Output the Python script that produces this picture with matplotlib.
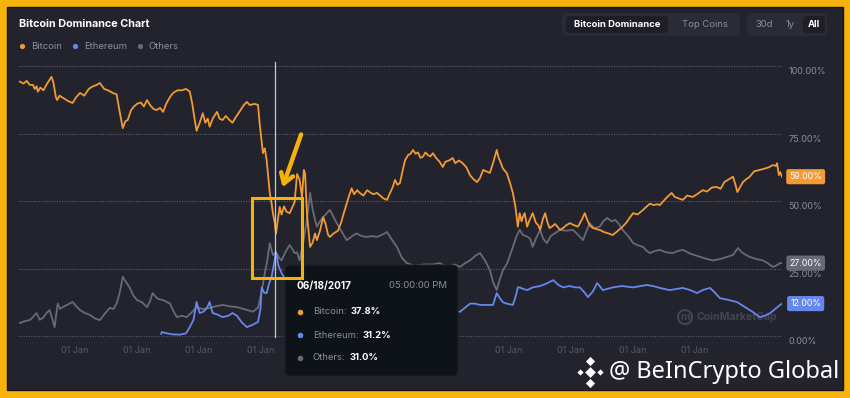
import matplotlib.pyplot as plt
import matplotlib.transforms as mtransforms
from matplotlib.patches import FancyBboxPatch, Rectangle, Circle

plt.rcParams['font.family'] = ['Inter', 'DejaVu Sans']

# ---- data (decimal year, dominance %) ----
btc = [(2013.34, 94.2), (2013.40, 93.5), (2013.45, 94.5), (2013.50, 93.0), (2013.55, 93.0),
       (2013.58, 91.5), (2013.61, 92.5), (2013.63, 90.5), (2013.67, 92.0), (2013.72, 91.0),
       (2013.78, 93.5), (2013.85, 96.0), (2013.88, 94.0), (2013.92, 88.5), (2013.94, 87.4),
       (2013.98, 89.0), (2014.05, 88.0), (2014.12, 87.0), (2014.19, 86.3), (2014.25, 88.5),
       (2014.31, 90.0), (2014.38, 89.0), (2014.45, 91.5), (2014.52, 92.5), (2014.58, 93.0),
       (2014.63, 93.7), (2014.70, 91.5), (2014.76, 91.0), (2014.84, 90.0), (2014.90, 89.5),
       (2014.95, 83.0), (2015.00, 77.0), (2015.04, 79.5), (2015.08, 80.0), (2015.13, 83.5),
       (2015.18, 85.0), (2015.23, 86.0), (2015.29, 86.5), (2015.34, 85.0), (2015.39, 87.4),
       (2015.44, 85.5), (2015.50, 84.0), (2015.55, 83.7), (2015.60, 84.5), (2015.65, 83.0),
       (2015.70, 86.0), (2015.76, 88.5), (2015.81, 90.0), (2015.88, 91.0), (2015.95, 91.0),
       (2016.02, 91.5), (2016.08, 90.5), (2016.12, 86.0), (2016.16, 80.0), (2016.19, 76.0),
       (2016.24, 79.0), (2016.29, 82.5), (2016.33, 79.0), (2016.37, 80.5), (2016.40, 77.5),
       (2016.45, 80.5), (2016.49, 82.0), (2016.52, 83.0), (2016.56, 80.5), (2016.61, 80.0),
       (2016.66, 81.5), (2016.72, 80.0), (2016.77, 79.0), (2016.82, 81.0), (2016.88, 83.0),
       (2016.95, 85.5), (2017.00, 86.7), (2017.05, 85.5), (2017.12, 86.0), (2017.18, 85.6),
       (2017.21, 78.0), (2017.26, 67.7), (2017.29, 69.5), (2017.32, 65.0), (2017.35, 58.0),
       (2017.37, 53.0), (2017.40, 49.0), (2017.42, 45.5), (2017.45, 42.0), (2017.47, 37.8),
       (2017.50, 43.0), (2017.53, 47.8), (2017.56, 45.0), (2017.60, 48.0), (2017.64, 46.0),
       (2017.69, 45.5), (2017.74, 48.0), (2017.77, 49.5), (2017.81, 60.0), (2017.85, 58.0),
       (2017.89, 51.5), (2017.92, 61.5), (2017.94, 60.0), (2017.97, 45.0), (2018.02, 33.0),
       (2018.06, 34.5), (2018.10, 38.0), (2018.13, 35.5), (2018.18, 39.0), (2018.23, 44.0),
       (2018.27, 41.5), (2018.31, 37.5), (2018.34, 36.7), (2018.40, 38.0), (2018.47, 39.0),
       (2018.52, 42.0), (2018.57, 46.0), (2018.61, 49.0), (2018.65, 52.0), (2018.69, 54.7),
       (2018.73, 52.5), (2018.78, 54.0), (2018.82, 53.0), (2018.88, 52.0), (2018.94, 54.0),
       (2018.98, 53.3), (2019.04, 52.5), (2019.10, 53.0), (2019.15, 52.0), (2019.20, 51.0),
       (2019.26, 50.4), (2019.30, 52.5), (2019.35, 55.0), (2019.39, 57.8), (2019.43, 56.0),
       (2019.47, 56.7), (2019.51, 61.0), (2019.55, 65.0), (2019.60, 67.0), (2019.64, 67.5),
       (2019.68, 68.9), (2019.72, 67.5), (2019.76, 68.0), (2019.80, 66.0), (2019.84, 66.4),
       (2019.88, 68.0), (2019.92, 67.0), (2019.96, 66.5), (2020.00, 67.7), (2020.05, 66.0),
       (2020.11, 64.5), (2020.16, 62.6), (2020.20, 64.5), (2020.26, 65.0), (2020.32, 65.9),
       (2020.36, 64.0), (2020.42, 65.0), (2020.48, 64.0), (2020.54, 62.5), (2020.60, 59.5),
       (2020.66, 58.0), (2020.71, 57.0), (2020.76, 58.5), (2020.81, 61.5), (2020.86, 61.0),
       (2020.92, 60.4), (2020.97, 64.0), (2021.03, 68.9), (2021.06, 66.0), (2021.08, 65.0),
       (2021.13, 62.0), (2021.19, 60.4), (2021.24, 57.0), (2021.29, 53.0), (2021.33, 48.0),
       (2021.37, 40.5), (2021.40, 45.5), (2021.43, 42.5), (2021.45, 44.0), (2021.48, 45.5),
       (2021.52, 40.5), (2021.56, 43.0), (2021.61, 45.5), (2021.66, 42.0), (2021.70, 41.0),
       (2021.73, 39.3), (2021.77, 43.0), (2021.81, 45.5), (2021.85, 42.0), (2021.88, 40.0),
       (2021.92, 40.5), (2021.97, 41.5), (2022.05, 39.3), (2022.10, 40.0), (2022.15, 41.0),
       (2022.21, 41.8), (2022.28, 41.0), (2022.34, 40.5), (2022.40, 43.0), (2022.45, 45.5),
       (2022.49, 43.0), (2022.53, 41.0), (2022.58, 40.0), (2022.65, 39.5), (2022.69, 39.3),
       (2022.76, 38.5), (2022.83, 38.0), (2022.90, 37.4), (2022.96, 38.5), (2023.06, 40.5),
       (2023.12, 42.0), (2023.18, 44.0), (2023.23, 45.5), (2023.30, 45.0), (2023.39, 46.7),
       (2023.45, 48.0), (2023.50, 49.0), (2023.56, 48.5), (2023.62, 48.8), (2023.66, 48.5),
       (2023.72, 50.0), (2023.78, 51.5), (2023.85, 53.0), (2023.90, 51.5), (2023.96, 51.0),
       (2024.03, 50.4), (2024.10, 52.0), (2024.19, 51.5), (2024.26, 52.5), (2024.35, 54.0),
       (2024.42, 53.5), (2024.50, 55.0), (2024.58, 55.2), (2024.64, 54.5), (2024.70, 57.0),
       (2024.77, 58.0), (2024.84, 59.0), (2024.88, 56.0), (2024.91, 53.3), (2024.95, 55.0),
       (2025.00, 57.0), (2025.05, 58.0), (2025.11, 59.0), (2025.18, 61.0), (2025.27, 61.5),
       (2025.35, 62.0), (2025.42, 62.5), (2025.48, 63.3), (2025.53, 63.0), (2025.55, 64.0),
       (2025.57, 61.0), (2025.58, 59.6), (2025.60, 60.7), (2025.63, 59.0)]

others = [(2013.34, 4.8), (2013.42, 5.5), (2013.50, 5.9), (2013.55, 7.0), (2013.61, 8.5),
          (2013.66, 6.0), (2013.71, 6.7), (2013.77, 8.5), (2013.82, 9.6), (2013.88, 5.0),
          (2013.90, 3.3), (2013.95, 12.0), (2013.99, 10.0), (2014.03, 10.7), (2014.10, 11.5),
          (2014.19, 12.6), (2014.25, 11.0), (2014.31, 9.6), (2014.39, 8.5), (2014.47, 7.8),
          (2014.55, 6.5), (2014.63, 5.9), (2014.70, 8.0), (2014.79, 10.4), (2014.85, 10.0),
          (2014.90, 12.0), (2014.95, 16.0), (2015.00, 21.9), (2015.05, 20.0), (2015.11, 18.0),
          (2015.17, 15.0), (2015.23, 13.3), (2015.31, 12.5), (2015.39, 10.7), (2015.44, 13.0),
          (2015.48, 15.9), (2015.55, 14.0), (2015.60, 13.5), (2015.65, 13.3), (2015.76, 12.0),
          (2015.81, 9.5), (2015.87, 7.0), (2015.95, 7.5), (2016.03, 7.0), (2016.10, 8.5),
          (2016.19, 10.7), (2016.28, 10.0), (2016.40, 10.4), (2016.50, 11.0), (2016.61, 11.5),
          (2016.72, 11.0), (2016.84, 10.7), (2016.95, 10.0), (2017.10, 9.0), (2017.18, 10.5),
          (2017.21, 13.3), (2017.25, 18.0), (2017.29, 23.3), (2017.33, 28.0), (2017.37, 34.4),
          (2017.42, 30.0), (2017.47, 31.0), (2017.52, 29.0), (2017.56, 28.0), (2017.62, 31.0),
          (2017.69, 33.7), (2017.74, 32.0), (2017.77, 30.7), (2017.81, 31.0), (2017.85, 28.0),
          (2017.92, 36.0), (2017.98, 45.0), (2018.02, 53.0), (2018.06, 47.0), (2018.10, 43.0),
          (2018.13, 40.5), (2018.18, 42.5), (2018.23, 44.0), (2018.29, 45.5), (2018.34, 46.7),
          (2018.40, 44.0), (2018.45, 41.8), (2018.52, 39.0), (2018.61, 35.5), (2018.70, 37.0),
          (2018.77, 38.0), (2018.85, 37.0), (2018.94, 36.7), (2019.02, 37.0), (2019.10, 36.7),
          (2019.18, 37.5), (2019.26, 38.5), (2019.33, 36.0), (2019.42, 33.0), (2019.50, 29.0),
          (2019.58, 27.0), (2019.70, 26.0), (2019.85, 26.5), (2020.00, 26.5), (2020.11, 27.0),
          (2020.23, 25.6), (2020.35, 26.5), (2020.44, 25.6), (2020.52, 27.0), (2020.60, 28.0),
          (2020.70, 30.0), (2020.76, 30.7), (2020.84, 28.0), (2020.92, 24.4), (2020.97, 20.0),
          (2021.03, 17.0), (2021.08, 21.0), (2021.13, 24.4), (2021.20, 27.0), (2021.29, 33.0),
          (2021.35, 37.0), (2021.40, 39.3), (2021.45, 37.5), (2021.53, 36.7), (2021.57, 36.0),
          (2021.61, 33.0), (2021.66, 36.0), (2021.73, 39.3), (2021.78, 36.0), (2021.84, 34.4),
          (2021.90, 37.0), (2022.05, 39.3), (2022.15, 39.0), (2022.26, 39.3), (2022.34, 37.5),
          (2022.42, 35.5), (2022.47, 38.5), (2022.53, 41.8), (2022.60, 40.0), (2022.69, 40.5),
          (2022.75, 42.5), (2022.81, 43.7), (2022.88, 42.5), (2022.94, 43.0), (2023.00, 41.5),
          (2023.06, 39.3), (2023.15, 37.0), (2023.23, 34.4), (2023.32, 33.5), (2023.39, 33.0),
          (2023.45, 31.5), (2023.50, 30.7), (2023.58, 31.5), (2023.66, 31.9), (2023.76, 31.0),
          (2023.87, 30.7), (2023.95, 31.5), (2024.03, 31.9), (2024.15, 30.5), (2024.31, 29.3),
          (2024.42, 28.5), (2024.52, 28.0), (2024.63, 28.5), (2024.74, 29.3), (2024.84, 30.0),
          (2024.92, 32.6), (2024.98, 31.0), (2025.05, 30.0), (2025.11, 29.3), (2025.22, 28.5),
          (2025.32, 28.0), (2025.40, 27.0), (2025.48, 25.6), (2025.53, 26.0), (2025.60, 27.0),
          (2025.63, 27.0)]

eth = [(2015.62, 0.8), (2015.63, 1.5), (2015.67, 1.2), (2015.71, 1.0), (2015.80, 0.6),
       (2015.92, 0.5), (2016.02, 1.0), (2016.08, 3.3), (2016.14, 6.0), (2016.19, 12.6),
       (2016.22, 10.0), (2016.24, 8.5), (2016.30, 9.0), (2016.36, 10.5), (2016.40, 12.6),
       (2016.43, 10.0), (2016.45, 8.5), (2016.52, 8.0), (2016.61, 7.0), (2016.70, 7.5),
       (2016.77, 8.5), (2016.84, 7.5), (2016.92, 5.0), (2017.00, 3.3), (2017.08, 4.0),
       (2017.18, 5.2), (2017.22, 10.0), (2017.24, 18.0), (2017.28, 16.0), (2017.32, 15.9),
       (2017.36, 19.5), (2017.40, 21.9), (2017.44, 27.0), (2017.47, 31.2), (2017.51, 26.0),
       (2017.56, 23.3), (2017.62, 21.0), (2017.70, 22.0), (2017.85, 20.0), (2018.00, 19.0),
       (2018.15, 20.0), (2018.35, 16.0), (2018.55, 14.0), (2018.75, 11.0), (2018.95, 10.0),
       (2019.20, 10.0), (2019.45, 8.5), (2019.70, 8.0), (2019.95, 8.0), (2020.20, 9.0),
       (2020.44, 9.0), (2020.52, 10.5), (2020.60, 12.0), (2020.68, 12.0), (2020.76, 11.5),
       (2020.88, 11.5), (2020.97, 11.5), (2021.03, 15.9), (2021.08, 14.0), (2021.13, 12.5),
       (2021.19, 12.0), (2021.29, 11.5), (2021.34, 15.0), (2021.37, 18.0), (2021.40, 18.0),
       (2021.45, 17.5), (2021.52, 17.0), (2021.61, 18.0), (2021.73, 18.5), (2021.84, 19.5),
       (2021.94, 20.7), (2022.02, 19.0), (2022.10, 18.0), (2022.20, 18.5), (2022.30, 18.0),
       (2022.37, 18.0), (2022.45, 16.0), (2022.50, 14.4), (2022.58, 16.5), (2022.65, 19.6),
       (2022.74, 17.0), (2022.82, 17.5), (2022.90, 18.0), (2023.05, 18.5), (2023.23, 18.0),
       (2023.35, 18.5), (2023.45, 18.9), (2023.55, 18.5), (2023.66, 17.8), (2023.82, 17.0),
       (2023.95, 17.5), (2024.03, 17.8), (2024.15, 17.0), (2024.26, 15.9), (2024.35, 17.0),
       (2024.47, 17.8), (2024.55, 16.0), (2024.63, 14.0), (2024.74, 13.5), (2024.90, 12.6),
       (2024.98, 11.5), (2025.08, 10.0), (2025.16, 8.9), (2025.27, 7.0), (2025.35, 7.5),
       (2025.44, 8.5), (2025.52, 10.0), (2025.60, 11.5), (2025.63, 12.0)]

series_names = ['Bitcoin', 'Ethereum', 'Others']
tick_years = list(range(2014, 2025))
hidden_years = [2018, 2019, 2020]   # these labels sit under the tooltip
y_ticks = [0, 25, 50, 75, 100]
cross_date = 2017.46
tooltip_date = '06/18/2017'
tooltip_time = '05:00:00 PM'
tooltip_vals = [37.8, 31.2, 31.0]

# ---- colours ----
BORDER = '#f8b20c'
BG = '#22232d'
C_BTC = '#f39a33'
C_ETH = '#6687ec'
C_OTH = '#686a75'
GRID = '#5b5e6b'
TXT = '#8b8e9b'

fig = plt.figure(figsize=(8.5, 3.98), dpi=100)
fig.patch.set_facecolor(BORDER)

# background panel (pixel coords)
bg = fig.add_axes([0, 0, 1, 1], zorder=0)
bg.set_xlim(0, 850)
bg.set_ylim(398, 0)
bg.axis('off')
bg.add_patch(Rectangle((7, 7), 836, 383, fc=BG, ec='#15161c', lw=1))
# faint CoinMarketCap watermark, under the lines
bg.add_patch(Circle((685, 317), 7, fc='none', ec='#44464f', lw=1.5))
bg.text(685, 317.5, 'm', color='#44464f', fontsize=7.5, fontweight='bold', ha='center', va='center')
bg.text(697, 317, 'CoinMarketCap', color='#44464f', fontsize=7.6, fontweight='bold', va='center')

# main chart
ax = fig.add_axes([18 / 850, (398 - 341.4) / 398, 764 / 850, 280.8 / 398], zorder=1)
ax.set_facecolor('none')
ax.set_xlim(2013.31, 2025.63)
ax.set_ylim(-2, 102)
for sp in ax.spines.values():
    sp.set_visible(False)

ax.yaxis.tick_right()
ax.set_yticks(y_ticks)
ax.set_yticklabels([f'{v:.2f}%' for v in y_ticks])
ax.tick_params(axis='y', length=0, pad=4.5, labelsize=6.5, labelcolor=TXT)
offset = mtransforms.ScaledTranslation(0, -5 / 100, fig.dpi_scale_trans)
for lab in ax.get_yticklabels():
    lab.set_transform(lab.get_transform() + offset)
ax.grid(axis='y', color=GRID, linestyle=(0, (1, 1.3)), lw=0.8)

ax.set_xticks(tick_years)
ax.set_xticklabels(['' if y in hidden_years else '01 Jan' for y in tick_years], ha='left')
ax.tick_params(axis='x', length=0, pad=3.5, labelsize=6.5, labelcolor='#585b68')

lines = [(btc, C_BTC), (eth, C_ETH), (others, C_OTH)]
for data, col in [(others, C_OTH), (eth, C_ETH), (btc, C_BTC)]:
    t, v = zip(*data)
    ax.plot(t, v, color=col, lw=1.3, solid_joinstyle='round')

ax.axvline(cross_date, ymin=0.015, ymax=0.995, color='#c8c9d0', lw=0.9)

# value badges on the right
bt = mtransforms.blended_transform_factory(ax.transAxes, ax.transData)
for data, col in lines:
    last = data[-1][1]
    ax.text(1.031, last, f'{last:.2f}%', transform=bt, ha='center', va='center',
            fontsize=6.3, color='white', clip_on=False, zorder=5,
            bbox=dict(boxstyle='round,pad=0.35,rounding_size=0.25', fc=col, ec='none'))

# overlay for the ui chrome
ov = fig.add_axes([0, 0, 1, 1], zorder=3)
ov.set_xlim(0, 850)
ov.set_ylim(398, 0)
ov.axis('off')

ov.text(19, 24, 'Bitcoin Dominance Chart', color='white', fontsize=7.8, fontweight='bold', va='center')
for xd, name, col in zip([22, 75, 140], series_names, [C_BTC, C_ETH, C_OTH]):
    ov.scatter([xd], [46], s=14, color=col, lw=0)
    ov.text(xd + 9, 46.5, name, color=TXT, fontsize=6.8, va='center')

# buttons
ov.add_patch(FancyBboxPatch((562, 13), 178, 23, boxstyle='round,pad=0,rounding_size=5',
                            fc='#2a2b36', ec='none'))
ov.add_patch(FancyBboxPatch((566, 16), 102, 17, boxstyle='round,pad=0,rounding_size=4',
                            fc='#1d1e27', ec='none'))
ov.text(617, 24.5, 'Bitcoin Dominance', color='white', fontsize=6.8, fontweight='bold',
        ha='center', va='center')
ov.text(705, 24.5, 'Top Coins', color=TXT, fontsize=6.8, ha='center', va='center')
ov.add_patch(FancyBboxPatch((747, 13), 80, 23, boxstyle='round,pad=0,rounding_size=5',
                            fc='#2a2b36', ec='none'))
ov.add_patch(FancyBboxPatch((803, 16), 22, 17, boxstyle='round,pad=0,rounding_size=4',
                            fc='#1d1e27', ec='none'))
ov.text(764, 24.5, '30d', color=TXT, fontsize=6.8, ha='center', va='center')
ov.text(790, 24.5, '1y', color=TXT, fontsize=6.8, ha='center', va='center')
ov.text(814, 24.5, 'All', color='white', fontsize=6.8, fontweight='bold', ha='center', va='center')

# tooltip
ov.add_patch(FancyBboxPatch((285, 265), 173, 111, boxstyle='round,pad=0,rounding_size=6',
                            fc='#0d1319', ec='#1b2029', lw=0.8))
ov.text(297, 286, tooltip_date, color='white', fontsize=7.2, fontweight='bold', va='center')
ov.text(447, 286, tooltip_time, color=TXT, fontsize=6.8, ha='right', va='center')
for i, (name, val, col) in enumerate(zip(series_names, tooltip_vals, [C_BTC, C_ETH, C_OTH])):
    yy = 312 + i * 23
    ov.scatter([300], [yy], s=16, color=col, lw=0)
    lab = ov.text(313, yy, f'{name}:', color=TXT, fontsize=6.8, va='center')
    ov.annotate(f'{val:.1f}%', xy=(1, 0.5), xycoords=lab, xytext=(2.5, 0),
                textcoords='offset points', va='center', ha='left',
                color='white', fontsize=6.8, fontweight='bold')

# yellow highlight box + arrow (in data coords of the chart)
ov.add_patch(Rectangle((2017.08, 21.5), 0.81, 29.6, transform=ax.transData,
                       fc='none', ec='#f5b20a', lw=2.2))
ov.annotate('', xy=(2017.56, 54.1), xytext=(2017.89, 75.6),
            xycoords=ax.transData, textcoords=ax.transData,
            arrowprops=dict(arrowstyle='->,head_length=0.7,head_width=0.45',
                            color='#f5b20a', lw=3.2))

# watermark
ov.scatter([590], [372], marker='D', s=30, color='white', lw=0)
ov.scatter([580, 600], [372, 372], marker='D', s=10, color='white', lw=0)
ov.scatter([590, 590], [361, 383], marker='D', s=22, color='white', lw=0)
ov.text(609, 372, '@ BeInCrypto Global', color='white', fontsize=17,
        family=['Noto Sans', 'DejaVu Sans'], va='center')

fig.savefig('out.png', dpi=100, facecolor=BORDER)
